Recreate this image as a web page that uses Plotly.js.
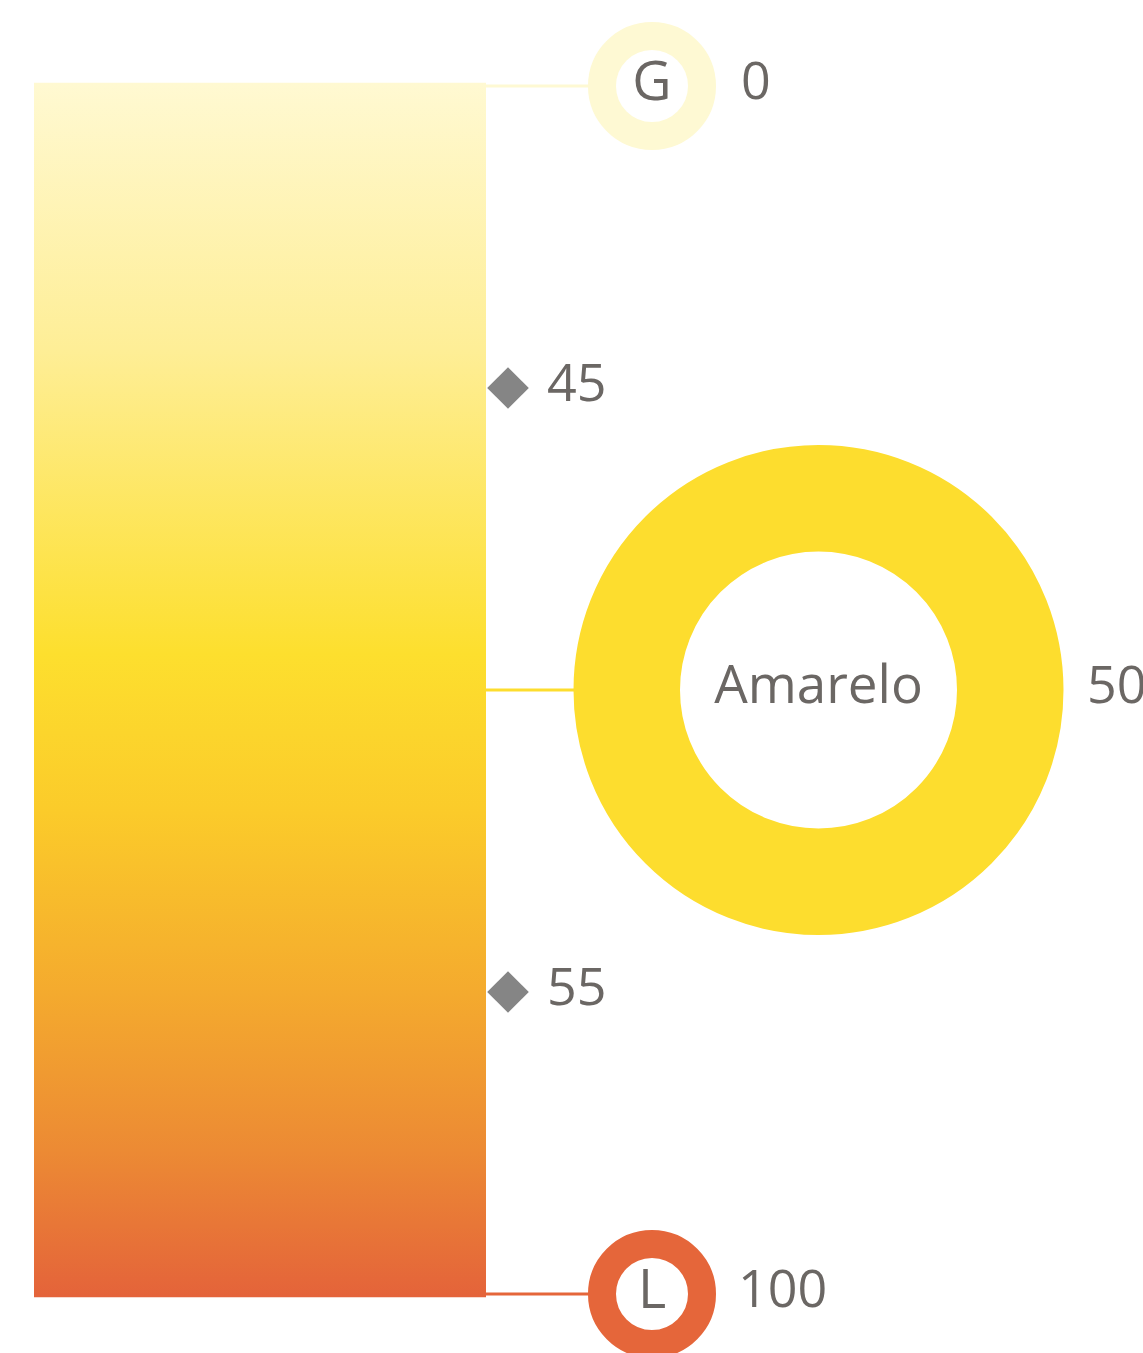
<!DOCTYPE html>
<html>
<head>
<meta charset="utf-8">
<script src="https://cdn.plot.ly/plotly-3.0.1.min.js"></script>
<style>html,body{margin:0;padding:0;background:#fff;}#chart{width:1143px;height:1353px;}</style>
</head>
<body>
<div id="chart"></div>
<script>
// ---- data ----
const scaleOrder = [0, 45, 50, 55, 100];          // order of values along the scale
const levelNames = ['G', 'Amarelo', 'L'];
const levelValues = [0, 50, 100];
const levelColors = ['#FEF9D3', '#FDDD2E', '#E5663A'];
const thresholdValues = [45, 55];
const gradientStops = [
  [0.00, '#FFF9D2'], [0.22, '#FEEE96'], [0.47, '#FDDF2E'],
  [0.60, '#FBCB2A'], [0.75, '#F4AA2E'], [0.88, '#EC8A34'], [1.00, '#E4633A']
];

// ---- styling / layout helpers ----
const TXT = '#6B6764';
const FONT = 'Open Sans, Noto Sans, sans-serif';
const pos = v => scaleOrder.indexOf(v);
const last = scaleOrder.length - 1;
const pad = 0.011;
const BAR_L = 34, BAR_R = 486;
const ringStyle = {
  'G':       {x: 652,   outer: 64,    inner: 36,    labelX: 741, size: 54},
  'Amarelo': {x: 818.5, outer: 245,   inner: 138.5, labelX: 1087, size: 53},
  'L':       {x: 652,   outer: 64,    inner: 36,    labelX: 738, size: 54}
};

const traces = [];

// gradient bar
traces.push({
  type: 'scatter', mode: 'lines',
  x: [BAR_L, BAR_R, BAR_R, BAR_L, BAR_L],
  y: [-pad, -pad, last + pad, last + pad, -pad],
  fill: 'toself',
  line: {width: 0, color: 'rgba(0,0,0,0)'},
  fillgradient: {type: 'vertical', start: -pad, stop: last + pad, colorscale: gradientStops},
  hoverinfo: 'skip'
});

// connectors
levelNames.forEach((n, i) => {
  const s = ringStyle[n];
  traces.push({
    type: 'scatter', mode: 'lines',
    x: [BAR_R, s.x], y: [pos(levelValues[i]), pos(levelValues[i])],
    line: {color: levelColors[i], width: 3},
    hoverinfo: 'skip'
  });
});

// rings
levelNames.forEach((n, i) => {
  const s = ringStyle[n];
  traces.push({
    type: 'scatter', mode: 'markers+text',
    x: [s.x], y: [pos(levelValues[i])],
    text: [n], textposition: 'middle center',
    textfont: {family: FONT, size: s.size, color: TXT},
    marker: {symbol: 'circle', size: s.outer + s.inner, color: '#ffffff',
             line: {color: levelColors[i], width: s.outer - s.inner}},
    hoverinfo: 'skip'
  });
  // value label
  traces.push({
    type: 'scatter', mode: 'text',
    x: [s.labelX], y: [pos(levelValues[i])],
    text: [String(levelValues[i])], textposition: 'middle right',
    textfont: {family: FONT, size: 52, color: TXT},
    hoverinfo: 'skip'
  });
});

// threshold diamonds
traces.push({
  type: 'scatter', mode: 'markers',
  x: thresholdValues.map(() => 508), y: thresholdValues.map(pos),
  marker: {symbol: 'diamond', size: 32, color: '#858585', line: {width: 0}},
  hoverinfo: 'skip'
});
traces.push({
  type: 'scatter', mode: 'text',
  x: thresholdValues.map(() => 547), y: thresholdValues.map(pos),
  text: thresholdValues.map(String), textposition: 'middle right',
  textfont: {family: FONT, size: 52, color: TXT},
  hoverinfo: 'skip'
});

// y mapping: index 0 -> px 86, index last -> px 1294
const H = 1353, y0px = 86, y1px = 1294;
const span = last * H / (y1px - y0px);
const rTop = -y0px / H * span;
const rBot = rTop + span;

const layout = {
  width: 1143, height: 1353,
  margin: {l: 0, r: 0, t: 0, b: 0, pad: 0},
  paper_bgcolor: '#ffffff', plot_bgcolor: '#ffffff',
  showlegend: false,
  xaxis: {range: [0, 1143], visible: false, fixedrange: true},
  yaxis: {range: [rBot, rTop], visible: false, fixedrange: true},
  font: {family: FONT, color: TXT}
};

Plotly.newPlot('chart', traces, layout, {displayModeBar: false, staticPlot: true});
</script>
</body>
</html>
